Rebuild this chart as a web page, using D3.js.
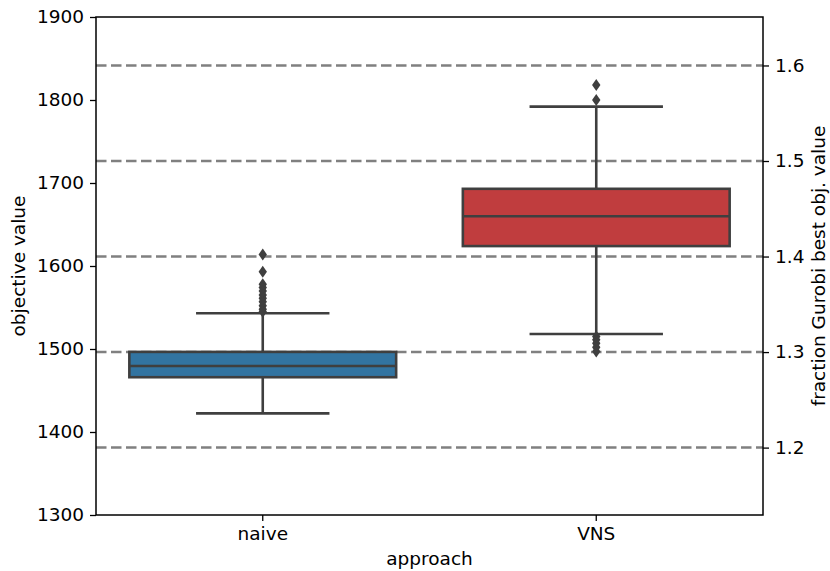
<!DOCTYPE html>
<html><head><meta charset="utf-8">
<script src="https://cdn.jsdelivr.net/npm/d3@7"></script>
<style>body{margin:0;background:#fff}text{font-family:"DejaVu Sans",sans-serif}</style>
</head><body><svg id="c" width="830" height="571"></svg>
<script>
const categories = ["naive", "VNS"];
const boxColors = ["#3274a1", "#c03d3e"];
// [lower whisker, Q1, median, Q3, upper whisker]
const naiveStats = [1422.5, 1466, 1479.5, 1496.5, 1543];
const vnsStats = [1518, 1624, 1660, 1693, 1792];
const naiveOutliers = [1614, 1593, 1578, 1574, 1570, 1565, 1561, 1557, 1552, 1548, 1545];
const vnsOutliers = [1818, 1800, 1515, 1511, 1507, 1502, 1497];
const leftTicks = [1300, 1400, 1500, 1600, 1700, 1800, 1900];
const rightTicks = [1.2, 1.3, 1.4, 1.5, 1.6];
const gurobiBest = 1151;

const stats = [naiveStats, vnsStats];
const outliers = [naiveOutliers, vnsOutliers];

const svg = d3.select("#c");
const L = 96, R = 763, T = 17, B = 515;
const x = d3.scaleBand().domain(categories).range([L, R]).paddingInner(0).paddingOuter(0);
const y = d3.scaleLinear().domain([1300, 1900]).range([B, T]);
const y2 = d3.scaleLinear().domain([1300 / gurobiBest, 1900 / gurobiBest]).range([B, T]);

const g = svg.append("g");
// dashed reference lines
g.selectAll("line.ref").data(rightTicks).join("line")
  .attr("x1", L).attr("x2", R).attr("y1", d => y2(d)).attr("y2", d => y2(d))
  .attr("stroke", "#808080").attr("stroke-width", 2.5).attr("stroke-dasharray", "10.5,4.5");

const lc = "#3f3f3f", lw = 2.6;
categories.forEach((c, i) => {
  const s = stats[i];
  const bw = x.bandwidth() * 0.8;
  const cx = x(c) + x.bandwidth() / 2;
  const gg = svg.append("g");
  gg.append("line").attr("x1", cx).attr("x2", cx).attr("y1", y(s[0])).attr("y2", y(s[1])).attr("stroke", lc).attr("stroke-width", lw);
  gg.append("line").attr("x1", cx).attr("x2", cx).attr("y1", y(s[3])).attr("y2", y(s[4])).attr("stroke", lc).attr("stroke-width", lw);
  [s[0], s[4]].forEach(v => gg.append("line").attr("x1", cx - bw / 4).attr("x2", cx + bw / 4).attr("y1", y(v)).attr("y2", y(v)).attr("stroke", lc).attr("stroke-width", lw));
  gg.append("rect").attr("x", cx - bw / 2).attr("width", bw).attr("y", y(s[3])).attr("height", y(s[1]) - y(s[3]))
    .attr("fill", boxColors[i]).attr("stroke", lc).attr("stroke-width", lw);
  gg.append("line").attr("x1", cx - bw / 2).attr("x2", cx + bw / 2).attr("y1", y(s[2])).attr("y2", y(s[2])).attr("stroke", lc).attr("stroke-width", lw);
  gg.selectAll("path").data(outliers[i]).join("path")
    .attr("d", "M0,-6L4.2,0L0,6L-4.2,0Z")
    .attr("transform", d => `translate(${cx},${y(d)})`)
    .attr("fill", lc);
});

// frame
svg.append("rect").attr("x", L).attr("y", T).attr("width", R - L).attr("height", B - T)
  .attr("fill", "none").attr("stroke", "#000").attr("stroke-width", 1.5);

const fs = 18.5;
const ax = svg.append("g").attr("transform", `translate(${L},0)`).call(d3.axisLeft(y).tickValues(leftTicks).tickFormat(d3.format("d")).tickSize(6).tickPadding(6));
const ax2 = svg.append("g").attr("transform", `translate(${R},0)`).call(d3.axisRight(y2).tickValues(rightTicks).tickFormat(d3.format(".1f")).tickSize(6).tickPadding(6));
const axb = svg.append("g").attr("transform", `translate(0,${B})`).call(d3.axisBottom(x).tickSize(6).tickPadding(6));
[ax, ax2, axb].forEach(a => {
  a.select(".domain").remove();
  a.selectAll("line").attr("stroke", "#000").attr("stroke-width", 1.3);
  a.selectAll("text").attr("font-size", fs).attr("fill", "#000").attr("font-family", "DejaVu Sans");
});

svg.append("text").attr("transform", "translate(25,266) rotate(-90)").attr("text-anchor", "middle")
  .attr("font-size", fs).text("objective value");
svg.append("text").attr("transform", "translate(825,266) rotate(-90)").attr("text-anchor", "middle")
  .attr("font-size", fs).text("fraction Gurobi best obj. value");
svg.append("text").attr("x", (L + R) / 2).attr("y", 565).attr("text-anchor", "middle")
  .attr("font-size", fs).text("approach");
</script></body></html>
